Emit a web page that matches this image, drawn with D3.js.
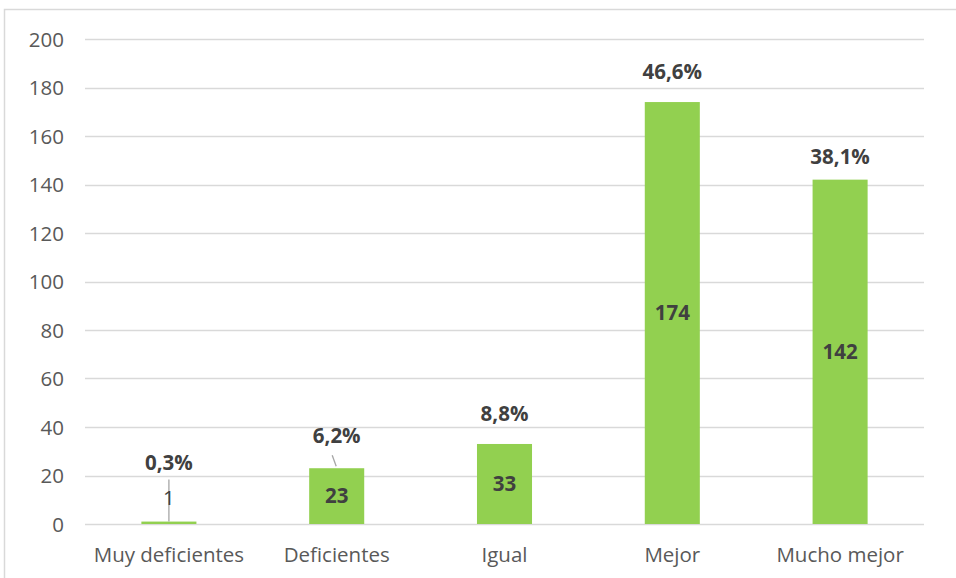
<!DOCTYPE html>
<html><head><meta charset="utf-8">
<script src="https://cdn.jsdelivr.net/npm/d3@7"></script>
<style>body{margin:0;background:#fff;} svg{display:block;font-family:"Open Sans",sans-serif;}</style>
</head><body><svg id="c" width="956" height="578"></svg>
<script>
const categories = ["Muy deficientes","Deficientes","Igual","Mejor","Mucho mejor"];
const values = [1,23,33,174,142];
const percents = ["0,3%","6,2%","8,8%","46,6%","38,1%"];
const yTicks = [0,20,40,60,80,100,120,140,160,180,200];

const FONT = '"Open Sans",sans-serif';
const FS = 20.5;
const svg = d3.select("#c");
const W=956,H=578;
const m={left:85,right:32,top:39,bottom:54};
svg.append("rect").attr("x",4.5).attr("y",9.5).attr("width",W).attr("height",H).attr("fill","#fff").attr("stroke","#d9d9d9").attr("stroke-width",1.5);

const x = d3.scaleBand().domain(categories).range([m.left,W-m.right]).paddingInner(0.672).paddingOuter(0.336);
const y = d3.scaleLinear().domain([0,200]).range([H-m.bottom,m.top]);

// gridlines
svg.append("g").selectAll("line").data(yTicks).join("line")
  .attr("x1",m.left).attr("x2",W-m.right).attr("y1",d=>Math.round(y(d))+0.5).attr("y2",d=>Math.round(y(d))+0.5)
  .attr("stroke","#d9d9d9").attr("stroke-width",1.3);

// y axis labels
const ya = svg.append("g").attr("transform",`translate(${m.left-21},0)`)
  .call(d3.axisLeft(y).tickValues(yTicks).tickSize(0).tickPadding(0));
ya.select(".domain").remove();
ya.selectAll("text").attr("font-size",FS).attr("fill","#595959").attr("font-family",FONT).attr("dy","0.35em");

// x axis labels
const xa = svg.append("g").attr("transform",`translate(0,${y(0)+23})`)
  .call(d3.axisBottom(x).tickSize(0).tickPadding(0));
xa.select(".domain").remove();
xa.selectAll("text").attr("font-size",FS).attr("fill","#595959").attr("font-family",FONT).attr("dy","0.71em");

// bars
svg.append("g").selectAll("rect").data(values).join("rect")
  .attr("x",(d,i)=>x(categories[i])).attr("width",x.bandwidth())
  .attr("y",d=>y(d)).attr("height",d=>y(0)-y(d)).attr("fill","#92d050");

// manual label nudges (px) for percent labels, matching the reference layout
const pctLift = [59,32,30,30,23];
const innerShift = [-25,0,0,0,0];
const cx = i => x(categories[i]) + x.bandwidth()/2;

// leader lines
svg.append("line").attr("x1",cx(0)).attr("x2",cx(0)).attr("y1",y(values[0])-42).attr("y2",y(values[0])).attr("stroke","#a6a6a6").attr("stroke-width",1.3);
svg.append("line").attr("x1",cx(1)-4.5).attr("x2",cx(1)-0.5).attr("y1",y(values[1])-13).attr("y2",y(values[1])-2).attr("stroke","#a6a6a6").attr("stroke-width",1.3);

// value labels inside
svg.append("g").selectAll("text").data(values).join("text")
  .attr("x",(d,i)=>cx(i)).attr("y",(d,i)=>(y(d)+y(0))/2+innerShift[i])
  .attr("dy","0.35em").attr("text-anchor","middle").attr("font-size",FS).attr("font-weight",(d,i)=>i===0?"normal":"bold")
  .attr("fill","#404040").text(d=>d);

// percent labels
svg.append("g").selectAll("text").data(values).join("text")
  .attr("x",(d,i)=>cx(i)).attr("y",(d,i)=>y(d)-pctLift[i])
  .attr("dy","0.35em").attr("text-anchor","middle").attr("font-size",FS).attr("font-weight","bold")
  .attr("fill","#404040").text((d,i)=>percents[i]);
</script></body></html>
